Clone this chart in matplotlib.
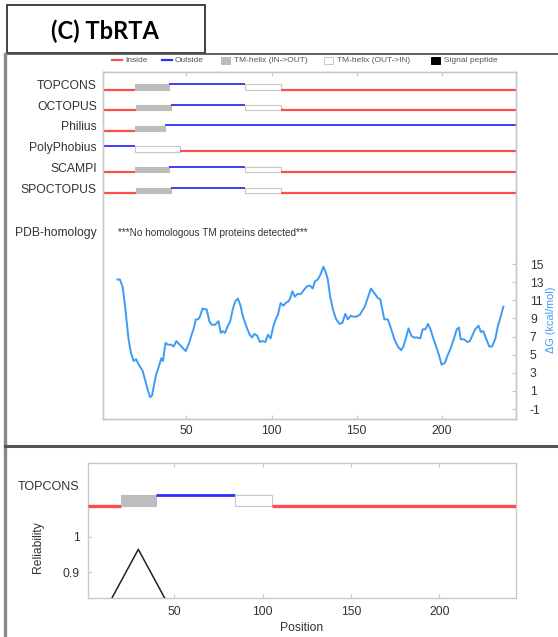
import matplotlib
matplotlib.use("Agg")
import matplotlib.pyplot as plt
from matplotlib.patches import Rectangle
from matplotlib.lines import Line2D

plt.rcParams['font.family'] = ['Liberation Sans', 'DejaVu Sans']

W, H = 558, 637

# ---------------- data ----------------
methods = ["TOPCONS", "OCTOPUS", "Philius", "PolyPhobius", "SCAMPI", "SPOCTOPUS"]
# segments: (start, end, type) ; i=inside, o=outside, M=TM in->out, W=TM out->in
topologies = {
    "TOPCONS":     [(1, 19.5, 'i'), (19.5, 39.5, 'M'), (39.5, 84.5, 'o'), (84.5, 105.5, 'W'), (105.5, 243.5, 'i')],
    "OCTOPUS":     [(1, 20.5, 'i'), (20.5, 41, 'M'), (41, 84.5, 'o'), (84.5, 105.5, 'W'), (105.5, 243.5, 'i')],
    "Philius":     [(1, 19.5, 'i'), (19.5, 37.5, 'M'), (37.5, 243.5, 'o')],
    "PolyPhobius": [(1, 19.5, 'o'), (19.5, 46, 'W'), (46, 243.5, 'i')],
    "SCAMPI":      [(1, 19.5, 'i'), (19.5, 39.5, 'M'), (39.5, 84.5, 'o'), (84.5, 105.5, 'W'), (105.5, 243.5, 'i')],
    "SPOCTOPUS":   [(1, 20.5, 'i'), (20.5, 41, 'M'), (41, 84.5, 'o'), (84.5, 105.5, 'W'), (105.5, 243.5, 'i')],
}
final_topology = topologies["TOPCONS"]

dg_pos = [9.5, 10.9, 12.5, 14, 16, 17.4, 19, 20.4, 22, 23.3, 24.3, 25.9, 27.3, 28.7, 29.8,
          31.2, 32.2, 33.8, 35.2, 36.2, 37.7, 39.1, 41.1, 42.5, 44.1, 46, 48, 49.6, 51.6, 53,
          54.3, 55.5, 56.9, 57.9, 59.5, 60.9, 61.9, 63.4, 64.8, 66.8, 68.8, 70.2, 71.3, 72.7,
          74.1, 75.7, 77.3, 78.7, 80.2, 81.6, 83.2, 85.2, 87.1, 88.5, 89.9, 91.5, 93.1, 94.5,
          96.4, 97.8, 99.4, 101, 102.6, 103.7, 105.3, 106.9, 108.3, 109.9, 110.9, 112.2, 113.6,
          115.2, 117.2, 119.2, 121.1, 122.7, 124.1, 125.5, 127.1, 128.6, 130.4, 131.6, 133,
          134.4, 136, 137.9, 139.9, 141.5, 143.3, 144.8, 146.4, 147.8, 149.8, 151.8, 153.1,
          154.7, 156.3, 158.3, 160.3, 162.2, 163.8, 165, 166.2, 168.2, 170.1, 172.1, 174.1,
          176, 177.4, 178.8, 180.4, 182, 183.4, 185.4, 187.3, 188.7, 190.3, 191.9, 193.3,
          194.6, 196.2, 198.2, 199.8, 201.8, 203.1, 205.1, 207.1, 208.7, 210, 211, 213, 215,
          216.4, 217.6, 219.5, 221.5, 222.9, 224.3, 225.9, 227.8, 229.4, 231.4, 232.8, 234.2,
          236.1]
dg_val = [13.3, 13.3, 12.5, 10.3, 6.7, 5.2, 4.3, 4.5, 3.9, 3.5, 3.2, 2.1, 1.1, 0.3, 0.5,
          1.9, 2.8, 3.7, 4.6, 4.3, 6.3, 6.1, 6.1, 5.9, 6.5, 6.1, 5.7, 5.4, 6.3, 7.2,
          7.9, 8.9, 8.9, 9.2, 10.1, 10.0, 10.0, 8.7, 8.3, 8.3, 8.7, 7.4, 7.6, 7.4,
          8.1, 8.7, 10.1, 10.9, 11.2, 10.5, 9.2, 8.1, 7.2, 6.9, 7.3, 7.1, 6.4, 6.5,
          6.4, 7.2, 6.8, 8.1, 9.0, 9.4, 10.7, 10.4, 10.7, 10.9, 11.2, 12.0, 11.4,
          11.7, 11.7, 12.2, 12.6, 12.6, 12.3, 13.1, 13.3, 13.8, 14.7, 14.2, 13.3,
          11.4, 10.0, 8.9, 8.4, 8.5, 9.5, 8.9, 9.3, 9.2, 9.2, 9.4, 9.8,
          10.3, 11.2, 12.3, 11.8, 11.3, 11.1, 10.0, 8.9, 8.9, 7.9, 6.7, 5.9,
          5.5, 5.9, 6.8, 7.9, 7.1, 6.9, 6.9, 6.8, 7.8, 7.8, 8.4, 7.8,
          7.0, 6.1, 5.0, 3.9, 4.1, 4.8, 5.7, 6.8, 7.8, 8.0, 6.7, 6.7, 6.4,
          6.5, 7.0, 7.8, 8.2, 7.5, 7.6, 6.8, 5.9, 5.9, 6.8, 8.1, 9.0,
          10.3]

rel_pos = [10, 29.5, 49]
rel_val = [0.785, 0.964, 0.785]

x_ticks = [50, 100, 150, 200]
dg_ticks = [-1, 1, 3, 5, 7, 9, 11, 13, 15]
rel_ticks = [0.9, 1.0]
rel_ticklabels = ["0.9", "1"]

legend_items = ["Inside", "Outside", "TM-helix (IN->OUT)", "TM-helix (OUT->IN)", "Signal peptide"]

# ---------------- style ----------------
RED = '#ff4d4d'
BLUE = '#2e2eff'
GREY = '#bdbdbd'
BOXEDGE = '#c8c8c8'
SPINE = '#c8c8c8'
TXT = '#333333'
DGC = '#3d9bf5'

fig = plt.figure(figsize=(W / 100, H / 100), dpi=100)


def fx(px):
    return px / W


def fy(py):
    return 1 - py / H


def axrect(l, t, r, b):
    return [fx(l), fy(b), fx(r) - fx(l), fy(t) - fy(b)]


def style_frame(a):
    for s in a.spines.values():
        s.set_color(SPINE)
        s.set_linewidth(1.0)


def draw_track(a, segs, yr, yb, lw_r, lw_b):
    for (s, e, t) in segs:
        if t == 'i':
            a.plot([s, e], [yr, yr], color=RED, lw=lw_r, solid_capstyle='butt', zorder=3)
        elif t == 'o':
            a.plot([s, e], [yb, yb], color=BLUE, lw=lw_b, solid_capstyle='butt', zorder=3)
        elif t == 'M':
            a.add_patch(Rectangle((s, min(yr, yb)), e - s, abs(yr - yb), facecolor=GREY,
                                  edgecolor=GREY, lw=0.8, zorder=3))
        elif t == 'W':
            a.add_patch(Rectangle((s, min(yr, yb)), e - s, abs(yr - yb), facecolor='white',
                                  edgecolor=BOXEDGE, lw=0.8, zorder=3))


# ---------------- top panel ----------------
ax = fig.add_axes(axrect(103, 72, 516, 419))
ax.set_xlim(1, 243.5)
ax.set_ylim(419, 72)  # pixel-like layout coordinates (top = 72)
style_frame(ax)
ax.set_yticks([])
ax.set_xticks(x_ticks)
ax.set_xticklabels([str(t) for t in x_ticks], fontsize=8.7, color=TXT)
ax.tick_params(axis='x', direction='in', length=3, color=SPINE, top=True, pad=4)

row_red = [89.7, 110.3, 131.0, 151.5, 172.3, 193.3]
for m, yr in zip(methods, row_red):
    draw_track(ax, topologies[m], yr, yr - 5.5, 1.6, 1.3)
    ax.text(-0.015, (419 - (yr - 3.5)) / 347, m, transform=ax.transAxes, ha='right', va='center',
            fontsize=8.7, color=TXT)

ax.text(-0.015, (419 - 233) / 347, "PDB-homology", transform=ax.transAxes, ha='right', va='center',
        fontsize=8.7, color=TXT)
ax.text(0.037, (419 - 233) / 347, "***No homologous TM proteins detected***", transform=ax.transAxes,
        ha='left', va='center', fontsize=7.2, color=TXT)

ax2 = ax.twinx()
ax2.set_ylim(-2.1, 36.2)
style_frame(ax2)
ax2.plot(dg_pos, dg_val, color=DGC, lw=1.4, zorder=4)
ax2.set_yticks(dg_ticks)
ax2.set_yticklabels([str(t) for t in dg_ticks], fontsize=8.7, color=TXT)
ax2.tick_params(axis='y', direction='in', length=3, color=SPINE, pad=10)
fig.text(fx(551), fy(320), "\u0394G (kcal/mol)", rotation=90, ha='center', va='center',
         fontsize=7.8, color=DGC)

# legend
leg_y = fy(60)
lx = [112, 162, 221, 324, 431]
for i, (x0, lab) in enumerate(zip(lx, legend_items)):
    if i == 0:
        fig.add_artist(Line2D([fx(x0), fx(x0 + 10)], [leg_y, leg_y], color=RED, lw=1.6))
    elif i == 1:
        fig.add_artist(Line2D([fx(x0), fx(x0 + 10)], [leg_y, leg_y], color=BLUE, lw=1.6))
    else:
        fc = {2: GREY, 3: 'white', 4: 'black'}[i]
        ec = {2: GREY, 3: BOXEDGE, 4: 'black'}[i]
        fig.add_artist(Rectangle((fx(x0), fy(64)), fx(9), 7 / H, facecolor=fc, edgecolor=ec,
                                 lw=0.7, transform=fig.transFigure))
    fig.text(fx(x0 + 13), leg_y, lab, ha='left', va='center', fontsize=6, color='#555555')

# ---------------- bottom panel ----------------
bx = fig.add_axes(axrect(88, 463, 516, 598))
bx.set_xlim(1, 243.5)
bx.set_ylim(0.827, 1.207)
style_frame(bx)
draw_track(bx, final_topology, 1.086, 1.117, 2.4, 2.0)
bx.plot(rel_pos, rel_val, color='#222222', lw=1.1, zorder=4)
bx.set_xticks(x_ticks)
bx.set_xticklabels([str(t) for t in x_ticks], fontsize=8.7, color=TXT)
bx.set_yticks(rel_ticks)
bx.set_yticklabels(rel_ticklabels, fontsize=8.7, color=TXT)
bx.tick_params(direction='in', length=3, color=SPINE, top=True, pad=6)
bx.text(-0.02, 1.139, "TOPCONS", transform=bx.get_yaxis_transform(), ha='right', va='center',
        fontsize=9, color=TXT)
bx.set_ylabel("Reliability", fontsize=8.7, color=TXT)
bx.yaxis.set_label_coords(-44 / 428, 0.38)
bx.set_xlabel("Position", fontsize=8.7, color=TXT)
bx.xaxis.set_label_coords(0.5, -0.18)

# ---------------- frame decorations ----------------
fig.add_artist(Rectangle((fx(7), fy(53)), fx(198), 48 / H, facecolor='none', edgecolor='#222222',
                         lw=1.2, transform=fig.transFigure))
fig.text(fx(105), fy(31), "(C) TbRTA", ha='center', va='center', fontsize=17, fontweight='bold',
         family=['Lato', 'DejaVu Sans'], color='black')
fig.add_artist(Line2D([fx(5), fx(558)], [fy(54), fy(54)], color='#555555', lw=1.3))
fig.add_artist(Line2D([fx(5), fx(5)], [fy(54), fy(637)], color='#888888', lw=2.4))
fig.add_artist(Line2D([fx(5), fx(558)], [fy(445.7), fy(445.7)], color='#555555', lw=2.2))

fig.savefig("out.png", dpi=100)
